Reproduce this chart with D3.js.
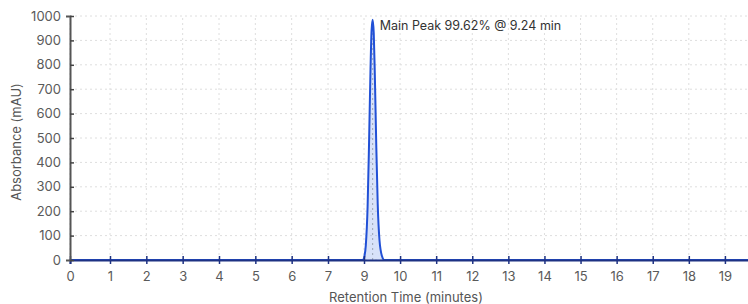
<!doctype html>
<head>
    <title>HPLC Chromatogram</title>
    <style>
        body { margin: 0; background: #fff; overflow: hidden; }
        text { font-family: Inter, "Noto Sans", sans-serif; }
    </style>
</head>
<body>
    <div id="chart"></div>

    <script src="https://d3js.org/d3.v7.min.js"></script>
    <script>
        // chromatogram readings (minutes, mAU)
        var times  = [0, 8.95, 9.00, 9.05, 9.10, 9.14, 9.18, 9.21, 9.24, 9.27, 9.30, 9.34, 9.38, 9.43, 9.50, 9.56, 20];
        var values = [0, 0,    8,    60,   220,  480,  780,  940,  985,  930,  760,  470,  230,  80,   15,   0,    0];

        var xTicks = [0, 1, 2, 3, 4, 5, 6, 7, 9, 10, 11, 12, 13, 14, 15, 16, 17, 18, 19];
        var yTicks = [0, 100, 200, 300, 400, 500, 600, 700, 800, 900, 1000];

        var peakTime = 9.24;
        var peakValue = 985;
        var peakLabel = "Main Peak 99.62% @ 9.24 min";

        var width = 748, height = 304;

        var svg = d3.select("#chart")
            .append("svg")
            .attr("width", width)
            .attr("height", height);

        // x axis as drawn in the picture (label 8 missing, spacing kept even)
        var x = d3.scaleLinear()
            .domain([0, 1, 7, 9, 20])
            .range([70, 110, 328, 364, 761]);

        var y = d3.scaleLinear()
            .domain([0, 1000])
            .range([260, 16]);

        // grid
        svg.append("g")
            .selectAll("line")
            .data(yTicks)
            .enter()
            .append("line")
            .attr("x1", x(0))
            .attr("x2", width)
            .attr("y1", function (d) { return y(d); })
            .attr("y2", function (d) { return y(d); })
            .attr("stroke", "#dedede")
            .attr("stroke-dasharray", "2,3");

        svg.append("g")
            .selectAll("line")
            .data(xTicks)
            .enter()
            .append("line")
            .attr("x1", function (d) { return x(d); })
            .attr("x2", function (d) { return x(d); })
            .attr("y1", y(0))
            .attr("y2", y(1000))
            .attr("stroke", "#dedede")
            .attr("stroke-dasharray", "2,3");

        var data = times.map(function (t, i) { return [t, values[i]]; });

        // peak fill
        svg.append("path")
            .datum(data)
            .attr("d", d3.area()
                .x(function (d) { return x(d[0]); })
                .y0(y(0))
                .y1(function (d) { return y(d[1]); })
                .curve(d3.curveMonotoneX))
            .attr("fill", "#3b6fe0")
            .attr("fill-opacity", 0.2);

        // apex marker
        svg.append("line")
            .attr("x1", x(peakTime))
            .attr("x2", x(peakTime))
            .attr("y1", y(0))
            .attr("y2", y(peakValue))
            .attr("stroke", "#9aa3b5")
            .attr("stroke-dasharray", "2,3");

        svg.append("path")
            .datum(data)
            .attr("d", d3.line()
                .x(function (d) { return x(d[0]); })
                .y(function (d) { return y(d[1]); })
                .curve(d3.curveMonotoneX))
            .attr("fill", "none")
            .attr("stroke", "#2150d6")
            .attr("stroke-width", 2);

        // axes
        var xAxis = svg.append("g")
            .attr("transform", "translate(0," + y(0) + ")")
            .call(d3.axisBottom(x).tickValues(xTicks).tickFormat(d3.format("d")).tickSize(4).tickPadding(8));
        xAxis.select(".domain").attr("stroke", "#1e3283").attr("stroke-width", 2);
        xAxis.selectAll(".tick line").attr("y1", -4).attr("stroke", "#1e3283").attr("stroke-width", 1.5);
        xAxis.selectAll(".tick text").attr("fill", "#5a5a5a").style("font-size", "13px");

        var yAxis = svg.append("g")
            .attr("transform", "translate(" + x(0) + ",0)")
            .call(d3.axisLeft(y).tickValues(yTicks).tickFormat(d3.format("d")).tickSize(4).tickPadding(5));
        yAxis.select(".domain").attr("stroke", "#555").attr("stroke-width", 2);
        yAxis.selectAll(".tick line").attr("x2", 4).attr("stroke", "#444").attr("stroke-width", 1.5);
        yAxis.selectAll(".tick text").attr("fill", "#5a5a5a").style("font-size", "13px");

        // annotation
        svg.append("text")
            .attr("x", x(peakTime) + 7)
            .attr("y", 30)
            .attr("fill", "#333")
            .style("font-size", "12.5px")
            .text(peakLabel);

        // axis titles
        svg.append("text")
            .attr("x", 406)
            .attr("y", 302)
            .attr("text-anchor", "middle")
            .attr("fill", "#555")
            .style("font-size", "13px")
            .text("Retention Time (minutes)");

        svg.append("text")
            .attr("transform", "translate(21,142) rotate(-90)")
            .attr("text-anchor", "middle")
            .attr("fill", "#555")
            .style("font-size", "13px")
            .text("Absorbance (mAU)");
    </script>
</body>
</html>
